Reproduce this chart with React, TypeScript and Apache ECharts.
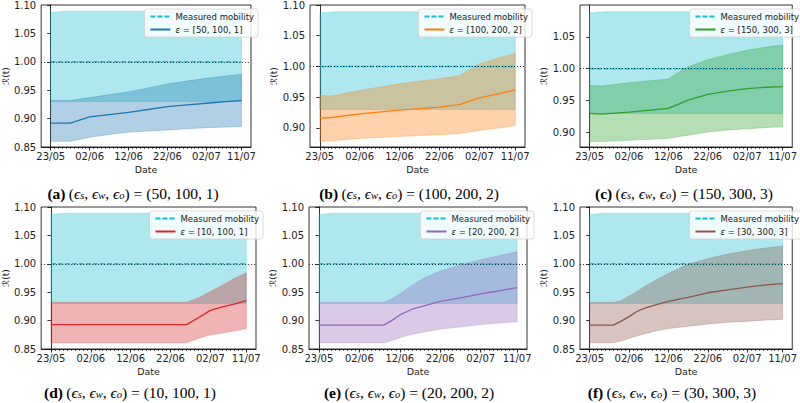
import React, { useEffect, useRef } from "react";
import * as echarts from "echarts";

// ---------- data ----------
const xTickDays = [0, 10, 20, 30, 40, 49];
const xTickLabels = ["23/05", "02/06", "12/06", "22/06", "02/07", "11/07"];
const minorTickDays = Array.from({ length: 50 }, (_, k) => k);

const measuredDays = [0, 4, 49];
const measuredUpper = [1.087, 1.089, 1.089];
const measuredLower = [0.93, 0.93, 0.93];
const measuredMean = [1.0, 1.0, 1.0];

const aDays = [0, 5, 10, 15, 20, 25, 30, 35, 40, 45, 49];
const aMean = [0.892, 0.892, 0.903, 0.907, 0.911, 0.916, 0.921, 0.924, 0.927, 0.93, 0.932];
const aUpper = [0.932, 0.932, 0.937, 0.942, 0.947, 0.954, 0.961, 0.966, 0.971, 0.975, 0.978];
const aLower = [0.86, 0.86, 0.867, 0.872, 0.876, 0.878, 0.88, 0.882, 0.884, 0.885, 0.886];

const bDays = [0, 3, 10, 20, 30, 35, 40, 45, 49];
const bMean = [0.916, 0.917, 0.923, 0.929, 0.934, 0.938, 0.949, 0.956, 0.962];
const bUpper = [0.953, 0.952, 0.961, 0.972, 0.98, 0.985, 1.004, 1.014, 1.021];
const bLower = [0.878, 0.879, 0.883, 0.886, 0.889, 0.891, 0.896, 0.9, 0.904];

const cDays = [0, 3, 10, 20, 22, 25, 30, 35, 40, 45, 49];
const cMean = [0.93, 0.929, 0.932, 0.938, 0.943, 0.951, 0.96, 0.965, 0.969, 0.971, 0.972];
const cUpper = [0.974, 0.973, 0.978, 0.984, 0.992, 1.003, 1.014, 1.022, 1.029, 1.034, 1.037];
const cLower = [0.886, 0.886, 0.888, 0.891, 0.893, 0.896, 0.901, 0.904, 0.906, 0.908, 0.909];

const dDays = [0, 34, 37, 40, 43, 46, 49];
const dMean = [0.893, 0.893, 0.905, 0.918, 0.924, 0.929, 0.935];
const dUpper = [0.932, 0.932, 0.94, 0.951, 0.962, 0.974, 0.984];
const dLower = [0.861, 0.861, 0.869, 0.875, 0.878, 0.882, 0.886];

const eDays = [0, 16, 18, 20, 23, 26, 30, 35, 40, 45, 49];
const eMean = [0.892, 0.892, 0.9, 0.91, 0.92, 0.926, 0.934, 0.94, 0.947, 0.953, 0.958];
const eUpper = [0.932, 0.932, 0.938, 0.947, 0.962, 0.975, 0.987, 0.998, 1.007, 1.015, 1.021];
const eLower = [0.861, 0.861, 0.865, 0.87, 0.876, 0.88, 0.885, 0.889, 0.893, 0.896, 0.898];

const fDays = [0, 6, 8, 10, 12, 14, 17, 20, 25, 30, 35, 40, 45, 49];
const fMean = [0.892, 0.892, 0.899, 0.907, 0.916, 0.922, 0.928, 0.934, 0.941, 0.949, 0.954, 0.959, 0.963, 0.965];
const fUpper = [0.932, 0.932, 0.935, 0.943, 0.951, 0.96, 0.972, 0.983, 0.999, 1.009, 1.017, 1.023, 1.028, 1.031];
const fLower = [0.861, 0.861, 0.864, 0.869, 0.873, 0.877, 0.882, 0.886, 0.89, 0.894, 0.897, 0.899, 0.901, 0.902];

const yTicksFull = [0.85, 0.9, 0.95, 1.0, 1.05, 1.1];
const yTicksB = [0.9, 0.95, 1.0, 1.05, 1.1];
const yTicksC = [0.9, 0.95, 1.0, 1.05];

const MEASURED_NAME = "Measured mobility";
const CYAN = "#17becf";

// ---------- panel config ----------
const panels = [
  { letter: "a", eps: "[50, 100, 1]", params: "(50, 100, 1)", color: "#1f77b4", days: aDays, mean: aMean, upper: aUpper, lower: aLower, yMin: 0.85, yMax: 1.1, yTicks: yTicksFull, box: { l: 38, t: 5, r: 251, b: 147 }, cap: [133, 193] },
  { letter: "b", eps: "[100, 200, 2]", params: "(100, 200, 2)", color: "#ff7f0e", days: bDays, mean: bMean, upper: bUpper, lower: bLower, yMin: 0.869, yMax: 1.1, yTicks: yTicksB, box: { l: 310, t: 5, r: 525, b: 147 }, cap: [409, 193] },
  { letter: "c", eps: "[150, 300, 3]", params: "(150, 300, 3)", color: "#2ca02c", days: cDays, mean: cMean, upper: cUpper, lower: cLower, yMin: 0.8775, yMax: 1.0997, yTicks: yTicksC, box: { l: 580, t: 5, r: 796, b: 147 }, cap: [684, 193] },
  { letter: "d", eps: "[10, 100, 1]", params: "(10, 100, 1)", color: "#d62728", days: dDays, mean: dMean, upper: dUpper, lower: dLower, yMin: 0.85, yMax: 1.1, yTicks: yTicksFull, box: { l: 39, t: 207, r: 256, b: 349 }, cap: [130, 392] },
  { letter: "e", eps: "[20, 200, 2]", params: "(20, 200, 2)", color: "#9467bd", days: eDays, mean: eMean, upper: eUpper, lower: eLower, yMin: 0.85, yMax: 1.1, yTicks: yTicksFull, box: { l: 309, t: 207, r: 527, b: 349 }, cap: [409, 392] },
  { letter: "f", eps: "[30, 300, 3]", params: "(30, 300, 3)", color: "#8c564b", days: fDays, mean: fMean, upper: fUpper, lower: fLower, yMin: 0.85, yMax: 1.1, yTicks: yTicksFull, box: { l: 580, t: 207, r: 796, b: 349 }, cap: [672, 392] },
];

const X_MIN = -2.45;
const X_MAX = 51.45;
const TEXT = "#222";
const CAP_FONT = "Liberation Serif";

function rgba(hex: string, a: number) {
  const n = parseInt(hex.slice(1), 16);
  return `rgba(${(n >> 16) & 255},${(n >> 8) & 255},${n & 255},${a})`;
}

function bandSeries(xi: number, yi: number, days: number[], lower: number[], upper: number[], color: string) {
  return {
    type: "custom",
    xAxisIndex: xi,
    yAxisIndex: yi,
    silent: true,
    clip: true,
    z: 1,
    encode: { x: 0, y: [1, 2] },
    data: days.map((d, k) => [d, lower[k], upper[k]]),
    renderItem: (params: any, api: any) => {
      if (params.dataIndexInside !== 0) return null;
      const n = params.dataInsideLength;
      const pts: number[][] = [];
      for (let k = 0; k < n; k++) pts.push(api.coord([api.value(0, k), api.value(2, k)]));
      for (let k = n - 1; k >= 0; k--) pts.push(api.coord([api.value(0, k), api.value(1, k)]));
      return {
        type: "polygon",
        shape: { points: pts },
        style: { fill: rgba(color, 0.35), stroke: rgba(color, 0.35), lineWidth: 0.8 },
      };
    },
  };
}

function buildOption() {
  const grid: any[] = [];
  const xAxis: any[] = [];
  const yAxis: any[] = [];
  const series: any[] = [];
  const legend: any[] = [];
  const graphic: any[] = [];

  panels.forEach((p, i) => {
    const name = `ε = ${p.eps}`;
    grid.push({
      left: p.box.l,
      top: p.box.t,
      width: p.box.r - p.box.l,
      height: p.box.b - p.box.t,
      show: true,
      borderColor: "#000",
      borderWidth: 0.8,
      backgroundColor: "transparent",
    });
    xAxis.push({
      type: "value",
      gridIndex: i,
      min: X_MIN,
      max: X_MAX,
      position: "bottom",
      axisLine: { show: true, lineStyle: { color: "#000", width: 0.8 } },
      axisTick: { show: true, customValues: xTickDays, length: 3.5, lineStyle: { color: "#000", width: 0.8 } },
      axisLabel: {
        customValues: xTickDays,
        fontSize: 10,
        color: TEXT,
        margin: 4,
        fontFamily: "DejaVu Sans",
        formatter: (v: number) => {
          const k = xTickDays.indexOf(Math.round(v));
          return k >= 0 ? xTickLabels[k] : "";
        },
      },
      splitLine: { show: false },
      name: "Date",
      nameLocation: "middle",
      nameGap: 17,
      nameTextStyle: { fontSize: 9.5, color: TEXT, fontFamily: "DejaVu Sans" },
    });
    xAxis.push({
      type: "value",
      gridIndex: i,
      min: X_MIN,
      max: X_MAX,
      position: "bottom",
      axisLine: { show: false },
      axisTick: { show: true, customValues: minorTickDays, length: 2, lineStyle: { color: "#000", width: 0.6 } },
      axisLabel: { show: false },
      splitLine: { show: false },
    });
    yAxis.push({
      type: "value",
      gridIndex: i,
      min: p.yMin,
      max: p.yMax,
      axisLine: { show: true, lineStyle: { color: "#000", width: 0.8 } },
      axisTick: { show: true, customValues: p.yTicks, length: 3.5, lineStyle: { color: "#000", width: 0.8 } },
      axisLabel: {
        customValues: p.yTicks,
        fontSize: 10,
        color: TEXT,
        margin: 5,
        fontFamily: "DejaVu Sans",
        formatter: (v: number) => v.toFixed(2),
      },
      splitLine: { show: false },
      name: "ℛ(t)",
      nameLocation: "middle",
      nameRotate: 90,
      nameGap: 27,
      nameTextStyle: { fontSize: 9, color: TEXT, fontFamily: "DejaVu Sans" },
    });

    const xi = 2 * i;
    series.push(bandSeries(xi, i, measuredDays, measuredLower, measuredUpper, CYAN));
    series.push(bandSeries(xi, i, p.days, p.lower, p.upper, p.color));
    series.push({
      name: MEASURED_NAME,
      type: "line",
      xAxisIndex: xi,
      yAxisIndex: i,
      symbol: "none",
      silent: true,
      z: 3,
      data: measuredDays.map((d, k) => [d, measuredMean[k]]),
      lineStyle: { color: CYAN, width: 1.5, type: [5, 2] },
      itemStyle: { color: CYAN },
      markLine: {
        silent: true,
        symbol: ["none", "none"],
        label: { show: false },
        lineStyle: { color: "#000", type: [1, 2], width: 0.8 },
        data: [{ yAxis: 1.0 }],
        z: 5,
      },
    });
    series.push({
      name,
      type: "line",
      xAxisIndex: xi,
      yAxisIndex: i,
      symbol: "none",
      silent: true,
      z: 3,
      data: p.days.map((d, k) => [d, p.mean[k]]),
      lineStyle: { color: p.color, width: 1.3 },
      itemStyle: { color: p.color },
    });

    legend.push({
      data: [MEASURED_NAME, name],
      orient: "vertical",
      right: 793 - p.box.r,
      top: p.box.t + 4,
      itemWidth: 20,
      itemHeight: 8,
      itemGap: 4,
      padding: [3, 4, 3, 5],
      backgroundColor: "rgba(255,255,255,0.8)",
      borderColor: "#d0d0d0",
      borderWidth: 0.8,
      borderRadius: 3,
      selectedMode: false,
      itemStyle: { opacity: 0 },
      textStyle: {
        fontSize: 8.5,
        color: TEXT,
        fontFamily: "DejaVu Sans",
        rich: { i: { fontStyle: "italic", fontSize: 8.5, color: TEXT, fontFamily: "DejaVu Sans" } },
      },
      formatter: (n: string) => (n.startsWith("ε") ? "{i|ε}" + n.slice(1) : n),
    });

    graphic.push({
      type: "text",
      x: p.cap[0],
      y: p.cap[1],
      silent: true,
      style: {
        text: `{b|(${p.letter})} {t|(}{e|ϵ}{s|s}{t|, }{e|ϵ}{s|w}{t|, }{e|ϵ}{s|o}{t|) = ${p.params}}`,
        align: "center",
        verticalAlign: "middle",
        textAlign: "center",
        textVerticalAlign: "middle",
        rich: {
          b: { fontFamily: CAP_FONT, fontWeight: "bold", fontSize: 15.5, lineHeight: 16, fill: "#000" },
          t: { fontFamily: CAP_FONT, fontSize: 15.5, lineHeight: 16, fill: "#000" },
          e: { fontFamily: CAP_FONT, fontStyle: "italic", fontSize: 15.5, lineHeight: 16, fill: "#000" },
          s: { fontFamily: CAP_FONT, fontStyle: "italic", fontSize: 10.5, lineHeight: 5, verticalAlign: "bottom", fill: "#000" },
        },
      },
    });
  });

  return {
    animation: false,
    backgroundColor: "#fff",
    textStyle: { fontFamily: "DejaVu Sans" },
    grid,
    xAxis,
    yAxis,
    series,
    legend,
    graphic,
  };
}

export default function App() {
  const ref = useRef<HTMLDivElement>(null);
  useEffect(() => {
    if (!ref.current) return;
    const chart = echarts.init(ref.current, undefined, { renderer: "svg" });
    chart.setOption(buildOption() as any);
    return () => chart.dispose();
  }, []);
  return (
    <div
      ref={ref}
      style={{ position: "absolute", left: 0, top: 0, width: 800, height: 403, background: "#fff" }}
    />
  );
}
